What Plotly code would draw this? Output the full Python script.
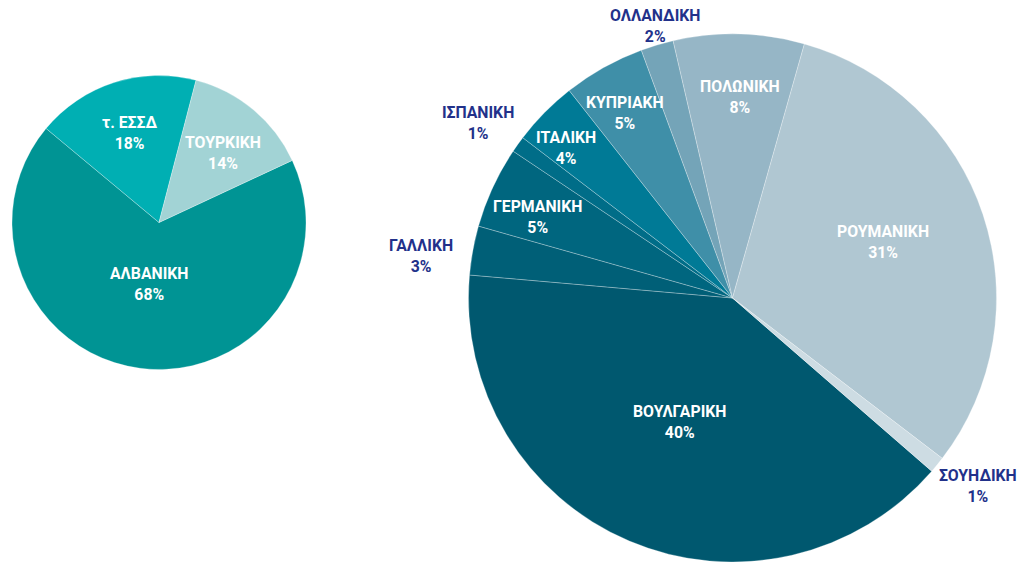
import math
import plotly.graph_objects as go

# ---- data ----
left_labels = ["ΑΛΒΑΝΙΚΗ", "τ. ΕΣΣΔ", "ΤΟΥΡΚΙΚΗ"]
left_values = [68, 18, 14]

right_labels = ["ΒΟΥΛΓΑΡΙΚΗ", "ΓΑΛΛΙΚΗ", "ΓΕΡΜΑΝΙΚΗ", "ΙΣΠΑΝΙΚΗ", "ΙΤΑΛΙΚΗ",
                "ΚΥΠΡΙΑΚΗ", "ΟΛΛΑΝΔΙΚΗ", "ΠΟΛΩΝΙΚΗ", "ΡΟΥΜΑΝΙΚΗ", "ΣΟΥΗΔΙΚΗ"]
right_values = [40, 3, 5, 1, 4, 5, 2, 8, 31, 1]

# ---- styles ----
left_colors = ["#009494", "#00AFB3", "#A2D3D5"]
right_colors = ["#00586F", "#005F77", "#00667F", "#006D88", "#007A96",
                "#3F8FA8", "#74A4B8", "#96B6C6", "#B0C7D2", "#CDDCE3"]
# label placement: distance (fraction of radius) and angular nudge (deg) from slice bisector
left_label_r = [0.42, 0.64, 0.64]
left_label_da = [1.0, 0.0, 2.8]
left_inside = [True, True, True]
right_label_r = [0.51, 1.19, 0.80, 1.17, 0.85, 0.81, 1.07, 0.76, 0.61, 1.17]
right_label_da = [0.0, -2.7, -2.3, -1.2, -2.6, -1.0, 0.6, 0.7, -2.1, -1.8]
right_inside = [True, False, True, False, True, True, False, True, True, False]

W, H = 1024, 577
left_center, left_R = (159, 222.5), 147
right_center, right_R = (732.5, 298), 264
left_rot, right_rot = 65, 131

FONT = "Roboto"
FONT_SIZE = 15.8
INSIDE_COLOR = "white"
OUTSIDE_COLOR = "#22318A"


def domain(center, R):
    cx, cy = center
    return dict(x=[(cx - R) / W, (cx + R) / W],
                y=[1 - (cy + R) / H, 1 - (cy - R) / H])


fig = go.Figure()
for labels, values, colors, center, R, rot in [
    (left_labels, left_values, left_colors, left_center, left_R, left_rot),
    (right_labels, right_values, right_colors, right_center, right_R, right_rot),
]:
    fig.add_trace(go.Pie(
        labels=labels, values=values, sort=False, direction="clockwise",
        rotation=rot, domain=domain(center, R), textinfo="none",
        hoverinfo="label+percent",
        marker=dict(colors=colors, line=dict(color="rgba(255,255,255,0.35)", width=0.8)),
        showlegend=False,
    ))

annotations = []
for labels, values, center, R, rot, rf, da, inside in [
    (left_labels, left_values, left_center, left_R, left_rot, left_label_r, left_label_da, left_inside),
    (right_labels, right_values, right_center, right_R, right_rot, right_label_r, right_label_da, right_inside),
]:
    total = sum(values)
    acc = 0.0
    for lab, v, f, d, ins in zip(labels, values, rf, da, inside):
        mid = rot + (acc + v / 2) / total * 360 + d
        acc += v
        a = math.radians(mid)
        px = center[0] + f * R * math.sin(a)
        py = center[1] - f * R * math.cos(a)
        pct = round(v / total * 100)
        annotations.append(dict(
            x=px / W, y=1 - py / H, xref="paper", yref="paper",
            text=f"<b>{lab}</b><br><b>{pct}%</b>", showarrow=False,
            xanchor="center", yanchor="middle", align="center",
            font=dict(family=FONT, size=FONT_SIZE,
                      color=INSIDE_COLOR if ins else OUTSIDE_COLOR),
        ))

fig.update_layout(
    width=W, height=H, margin=dict(l=0, r=0, t=0, b=0),
    paper_bgcolor="white", plot_bgcolor="white",
    annotations=annotations,
)

fig.write_html("out.html", config={"displayModeBar": False},
               post_script="document.body.style.margin='0';")
